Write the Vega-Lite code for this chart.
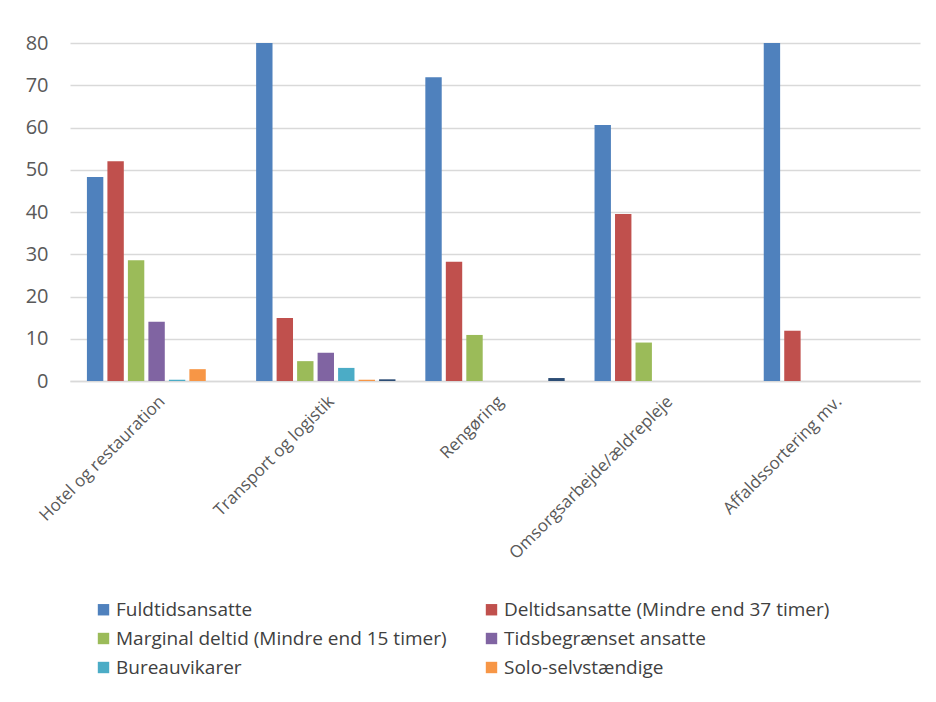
{
  "$schema": "https://vega.github.io/schema/vega-lite/v6.json",
  "width": 850,
  "height": 338,
  "autosize": {"type": "none"},
  "padding": {"left": 70, "top": 43, "right": 16, "bottom": 321},
  "background": "white",
  "config": {
    "view": {"stroke": null},
    "font": "Open Sans"
  },
  "data": {
    "values": [
      {"sektor": "Hotel og restauration", "type": "Fuldtidsansatte", "pct": 48.3},
      {"sektor": "Hotel og restauration", "type": "Deltidsansatte (Mindre end 37 timer)", "pct": 52.0},
      {"sektor": "Hotel og restauration", "type": "Marginal deltid (Mindre end 15 timer)", "pct": 28.6},
      {"sektor": "Hotel og restauration", "type": "Tidsbegrænset ansatte", "pct": 14.0},
      {"sektor": "Hotel og restauration", "type": "Bureauvikarer", "pct": 0.3},
      {"sektor": "Hotel og restauration", "type": "Solo-selvstændige", "pct": 2.8},
      {"sektor": "Transport og logistik", "type": "Fuldtidsansatte", "pct": 80},
      {"sektor": "Transport og logistik", "type": "Deltidsansatte (Mindre end 37 timer)", "pct": 14.9},
      {"sektor": "Transport og logistik", "type": "Marginal deltid (Mindre end 15 timer)", "pct": 4.7},
      {"sektor": "Transport og logistik", "type": "Tidsbegrænset ansatte", "pct": 6.7},
      {"sektor": "Transport og logistik", "type": "Bureauvikarer", "pct": 3.1},
      {"sektor": "Transport og logistik", "type": "Solo-selvstændige", "pct": 0.3},
      {"sektor": "Transport og logistik", "type": "Øvrige", "pct": 0.4},
      {"sektor": "Rengøring", "type": "Fuldtidsansatte", "pct": 71.9},
      {"sektor": "Rengøring", "type": "Deltidsansatte (Mindre end 37 timer)", "pct": 28.2},
      {"sektor": "Rengøring", "type": "Marginal deltid (Mindre end 15 timer)", "pct": 10.9},
      {"sektor": "Rengøring", "type": "Øvrige", "pct": 0.7},
      {"sektor": "Omsorgsarbejde/ældrepleje", "type": "Fuldtidsansatte", "pct": 60.6},
      {"sektor": "Omsorgsarbejde/ældrepleje", "type": "Deltidsansatte (Mindre end 37 timer)", "pct": 39.5},
      {"sektor": "Omsorgsarbejde/ældrepleje", "type": "Marginal deltid (Mindre end 15 timer)", "pct": 9.1},
      {"sektor": "Affaldssortering mv.", "type": "Fuldtidsansatte", "pct": 80},
      {"sektor": "Affaldssortering mv.", "type": "Deltidsansatte (Mindre end 37 timer)", "pct": 11.9}
    ]
  },
  "mark": {"type": "bar", "clip": true},
  "encoding": {
    "x": {
      "field": "sektor",
      "type": "nominal",
      "sort": null,
      "scale": {"paddingInner": 0.1765, "paddingOuter": 0.1},
      "axis": {
        "title": null,
        "labelAngle": -45,
        "labelFontSize": 17,
        "labelColor": "#595959",
        "ticks": false,
        "domainColor": "#D9D9D9",
        "domainWidth": 1.5,
        "labelPadding": 12,
        "labelLimit": 300
      }
    },
    "xOffset": {
      "field": "type",
      "type": "nominal",
      "scale": {
        "domain": ["Fuldtidsansatte", "Deltidsansatte (Mindre end 37 timer)", "Marginal deltid (Mindre end 15 timer)", "Tidsbegrænset ansatte", "Bureauvikarer", "Solo-selvstændige", "Øvrige"],
        "paddingInner": 0.2,
        "paddingOuter": 0
      }
    },
    "y": {
      "field": "pct",
      "type": "quantitative",
      "scale": {"domain": [0, 80], "nice": false},
      "axis": {
        "title": null,
        "values": [0, 10, 20, 30, 40, 50, 60, 70, 80],
        "labelFontSize": 20,
        "labelColor": "#595959",
        "labelPadding": 22,
        "ticks": false,
        "domain": false,
        "gridColor": "#D9D9D9",
        "gridWidth": 1.5
      }
    },
    "color": {
      "field": "type",
      "type": "nominal",
      "scale": {
        "domain": ["Fuldtidsansatte", "Deltidsansatte (Mindre end 37 timer)", "Marginal deltid (Mindre end 15 timer)", "Tidsbegrænset ansatte", "Bureauvikarer", "Solo-selvstændige", "Øvrige"],
        "range": ["#4F81BD", "#C0504D", "#9BBB59", "#8064A2", "#4BACC6", "#F79646", "#2C4D75"]
      },
      "legend": {
        "title": null,
        "values": ["Fuldtidsansatte", "Deltidsansatte (Mindre end 37 timer)", "Marginal deltid (Mindre end 15 timer)", "Tidsbegrænset ansatte", "Bureauvikarer", "Solo-selvstændige"],
        "orient": "none",
        "direction": "horizontal",
        "legendX": 24,
        "legendY": 557,
        "columns": 2,
        "columnPadding": 35,
        "rowPadding": 9,
        "symbolType": "square",
        "symbolSize": 130,
        "symbolStrokeWidth": 0,
        "labelFontSize": 19,
        "labelColor": "#404040",
        "labelLimit": 500,
        "labelOffset": 3
      }
    }
  }
}
